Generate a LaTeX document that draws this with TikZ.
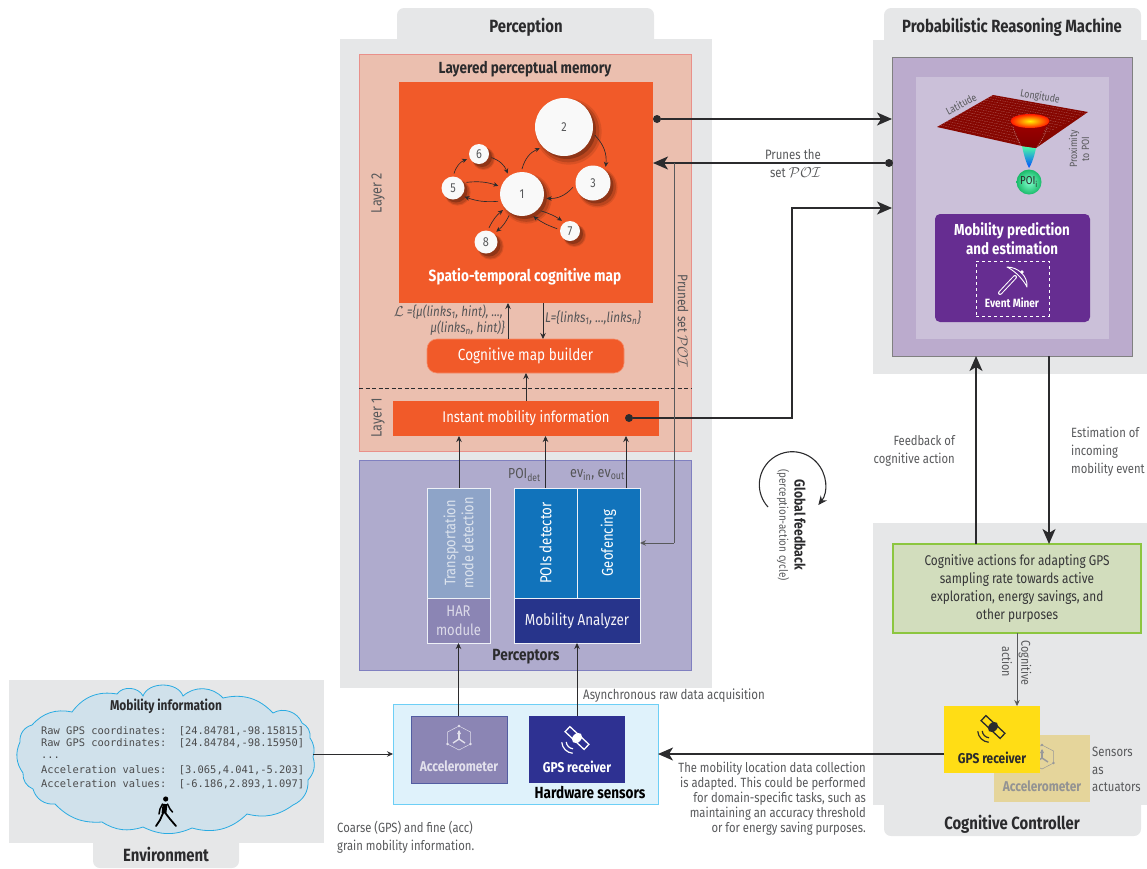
\documentclass[tikz,border=0pt]{standalone}
\usepackage{fontspec}
\setmainfont{Fira Sans}[FakeStretch=0.84]
\newfontfamily\mn{DejaVu Sans Mono}
\usetikzlibrary{arrows.meta,calc,shadows,shapes.geometric}
\definecolor{pgray}{HTML}{E6E7E8}
\definecolor{memfill}{HTML}{EBBFAF}
\definecolor{memline}{HTML}{E9908A}
\definecolor{orng}{HTML}{F15A29}
\definecolor{perfill}{HTML}{AFABCD}
\definecolor{perline}{HTML}{8080C0}
\definecolor{lblue}{HTML}{8EA4C8}
\definecolor{lpurp}{HTML}{8B85B4}
\definecolor{mblue}{HTML}{1173BB}
\definecolor{nblue}{HTML}{27348B}
\definecolor{gblue}{HTML}{2E3192}
\definecolor{prmo}{HTML}{BBABCD}
\definecolor{prmi}{HTML}{CBC0D9}
\definecolor{pur}{HTML}{662D91}
\definecolor{grf}{HTML}{D2DDBD}
\definecolor{grl}{HTML}{8CC63F}
\definecolor{yel}{HTML}{FFDD15}
\definecolor{tan2}{HTML}{E5D59B}
\definecolor{hwf}{HTML}{DFF2FB}
\definecolor{hwl}{HTML}{6DCFF6}
\definecolor{cloudf}{HTML}{D0E1EB}
\definecolor{cloudl}{HTML}{29ABE2}
\definecolor{txtg}{HTML}{58595B}
\definecolor{ttl}{HTML}{2B2B2D}
\newcommand\tf{\fontsize{13.4}{15}\selectfont}
\newcommand\bigf{\fontsize{17.7}{20}\selectfont}
\newcommand\sz[1]{\fontsize{#1}{#1}\selectfont}
\newcommand\satico[4]{\begin{scope}[shift={(#1,#2)}]
 \begin{scope}[shift={(-3.3,3.3)}]
 \draw[#3,line width=1.2pt] (95:7.5) arc[start angle=95,end angle=175,radius=7.5];
 \draw[#3,line width=1.2pt] (95:12) arc[start angle=95,end angle=175,radius=12];
 \end{scope}
 \begin{scope}[rotate=-43]
 \draw[#3,fill=#4,line width=1.3pt] (-13,-3.5) rectangle (13,3.5);
 \fill[#3] (0,0) ellipse [x radius=4.3,y radius=5.8];
 \end{scope}
\end{scope}}
\newcommand\accico[3]{\begin{scope}[shift={(#1,#2)},#3,line width=.5pt]
 \draw (0,-12)--(11.5,-6)--(11.5,6)--(0,12)--(-11.5,6)--(-11.5,-6)--cycle;
 \draw[line width=1.2pt] (0,1)--(0,-7);
 \draw[line width=1.4pt] (0,1)--(-6,5);
 \draw[line width=1.4pt] (0,1)--(6,5);
 \fill (0,-8) -- (-2,-4) -- (2,-4) -- cycle;
 \fill (0,-12) circle (1.3) (-11.5,6) circle (1.3) (11.5,6) circle (1.3);
\end{scope}}
\tikzset{
 boxat/.style={anchor=north west,inner sep=0pt,outer sep=0pt},
 thinarr/.style={draw=ttl,line width=.7pt,-{Stealth[length=6pt,width=5.5pt]}},
 bigarr/.style={draw=ttl,line width=1.4pt,-{Stealth[length=15pt,width=13pt,inset=4pt]}},
 dotnode/.style={circle,fill=ttl,inner sep=0pt,minimum size=8pt,outer sep=0pt},
 cir/.style={circle,fill=white!95!gray,inner sep=0pt,outer sep=3pt,text=txtg,font=\sz{13},
   drop shadow={shadow xshift=4pt,shadow yshift=-4pt,opacity=.12,fill=black!80!orng,shadow scale=1.14},
   drop shadow={shadow xshift=4pt,shadow yshift=-4pt,opacity=.18,fill=black!80!orng,shadow scale=1.07},
   drop shadow={shadow xshift=3pt,shadow yshift=-3pt,opacity=.3,fill=black!80!orng}},
 cur/.style={draw=ttl,line width=.65pt,-{Stealth[length=5pt,width=4.5pt]},bend left=25},
 lab/.style={text=txtg,font=\tf,inner sep=0pt,align=left},
 labr/.style={text=txtg,font=\tf,inner sep=0pt,align=right},
 labc/.style={text=txtg,font=\tf,inner sep=0pt,align=center},
 ttlb/.style={text=ttl,font=\bigf\bfseries,inner sep=0pt},
 tabpath/.style={fill=pgray,rounded corners=7pt},
}
\begin{document}
\begin{tikzpicture}[x=1pt,y=-1pt,line join=miter]
\useasboundingbox (0,0) rectangle (1147,868);
% ---- gray panels
\fill[pgray] (340,39) rectangle (712,688);
\path[tabpath] (397,39) -- (397,8) -- (654,8) -- (654,39);
\fill[pgray] (397,25) rectangle (654,39);
\node[ttlb] (tper) at (526,27.5) {Perception};
\fill[pgray] (873,40) rectangle (1147,374);
\path[tabpath] (884,40) -- (884,8) -- (1141,8) -- (1141,40);
\fill[pgray] (884,25) rectangle (1141,40);
\node[ttlb] (tprm) at (1012,27.5) {Probabilistic Reasoning Machine};
\fill[pgray] (873,523) rectangle (1147,805);
\path[tabpath] (884,805) -- (884,836) -- (1141,836) -- (1141,805);
\fill[pgray] (884,805) rectangle (1141,820);
\node[ttlb] (tcc) at (1012,824) {Cognitive Controller};
\fill[pgray] (9,680) rectangle (324,843);
\path[tabpath] (93,843) -- (93,868) -- (239,868) -- (239,843);
\fill[pgray] (93,843) rectangle (239,858);
\node[ttlb] (tenv) at (166,854) {Environment};
% ---- Perception
\node[boxat,fill=memfill,draw=memline,line width=.7pt,minimum width=332.5pt,minimum height=397pt] (mem) at (359,54) {};
\node[ttlb,font=\sz{16.1}\bfseries] (tmem) at (525,69) {Layered perceptual memory};
\node[boxat,fill=orng,minimum width=254pt,minimum height=221pt] (map) at (399,82) {};
\node[text=white,font=\sz{16.2}\bfseries,inner sep=0pt] (tmap) at (525,277) {Spatio-temporal cognitive map};
\node[text=txtg,font=\sz{15},rotate=90,inner sep=0pt] (l2) at (378,193) {Layer 2};
\node[text=txtg,font=\sz{15},rotate=90,inner sep=0pt] (l1) at (378,418) {Layer 1};
\node[cir,minimum size=58pt] (c2) at (564,127) {2};
\node[cir,minimum size=35pt] (c3) at (593,183) {3};
\node[cir,minimum size=44pt] (c1) at (522,194) {1};
\node[cir,minimum size=23pt] (c5) at (453,188) {5};
\node[cir,minimum size=20pt] (c6) at (479,154) {6};
\node[cir,minimum size=23pt] (c8) at (486,242) {8};
\node[cir,minimum size=20pt] (c7) at (570,231) {7};
\draw[cur] (c1.90) to (c2.221);
\draw[cur] (c2.-15) to (c3.52);
\draw[cur] (c3.192) to (c1.-10);
\draw[cur,bend left=12] (c5.23) to (c1.161);
\draw[cur,bend left=12] (c1.197) to (c5.-37);
\draw[cur] (c5.86) to (c6.203);
\draw[cur] (c6.-16) to (c1.125);
\draw[cur,bend left=12] (c8.78) to (c1.220);
\draw[cur,bend left=12] (c1.239) to (c8.45);
\draw[cur,bend left=8] (c1.-42) to (c7.128);
\draw[cur,bend left=8] (c7.170) to (c1.-63);
\node[boxat,fill=orng,draw=orng!70!white,line width=.6pt,rounded corners=10pt,minimum width=197pt,minimum height=34pt,text=white,font=\sz{16.1}] (cmb) at (427,339) {\raisebox{-1.5pt}{Cognitive map builder}};
\draw[ttl,line width=.7pt,dash pattern=on 4pt off 2.5pt] (359,388) coordinate (dl) -- (692,388) coordinate (dr);
\node[boxat,fill=orng,minimum width=266pt,minimum height=35pt,text=white,font=\sz{15.5}] (inst) at (393,401) {\raisebox{-1.5pt}{Instant mobility information}};
\node[boxat,fill=perfill,draw=perline,line width=.7pt,minimum width=332.5pt,minimum height=210pt] (pers) at (359,460) {};
\node[ttlb,font=\sz{16.2}\bfseries] (tpers) at (526,657) {Perceptors};
\node[boxat,fill=lblue,draw=white!85!lblue,line width=.8pt,minimum width=63pt,minimum height=110pt] (tmd) at (427,488) {};
\node[rotate=90,text=white!70!lblue,font=\fontsize{15.2}{18}\selectfont,align=center,inner sep=0pt] (tmdt) at (tmd) {Transportation\\mode detection};
\node[boxat,fill=lpurp,draw=white!85!lblue,line width=.8pt,minimum width=63pt,minimum height=45pt,text=white!70!lpurp,font=\fontsize{15.5}{19}\selectfont,align=center] (har) at (427,598) {HAR\\module};
\node[boxat,fill=mblue,draw=white!85!lblue,line width=.8pt,minimum width=63pt,minimum height=110pt] (poi) at (514,488) {};
\node[boxat,fill=mblue,draw=white!85!lblue,line width=.8pt,minimum width=63pt,minimum height=110pt] (geo) at (577,488) {};
\node[rotate=90,text=white,font=\sz{15.9},inner sep=0pt] (poit) at (poi) {POIs detector};
\node[rotate=90,text=white,font=\sz{15.6},inner sep=0pt] (geot) at (geo) {Geofencing};
\node[boxat,fill=nblue,draw=white!85!lblue,line width=.8pt,minimum width=126pt,minimum height=45pt,text=white!90!lpurp,font=\sz{16}] (ana) at (514,598) {Mobility Analyzer};
\node[anchor=west,text=ttl!80!white,font=\sz{14.5},inner sep=0pt] (poidet) at (508,475) {POI\textsubscript{det}};
\node[anchor=west,text=ttl!80!white,font=\sz{15},inner sep=0pt] (evs) at (570,475) {ev\textsubscript{in}, ev\textsubscript{out}};
\coordinate (x459) at (459,0);\coordinate (x626) at (626,0);\coordinate (x508) at (508,0);\coordinate (x543) at (543,0);\coordinate (x526) at (526,0);
\draw[thinarr] (tmd.north -| x459) -- (inst.south -| x459);
\draw[thinarr] (poi.north) -- (inst.south -| poi.north);
\draw[thinarr] (geo.north -| x626) -- (inst.south -| x626);
\draw[thinarr] (inst.north -| x526) -- (cmb.south -| x526);
\draw[thinarr] (cmb.north -| x508) -- (map.south -| x508);
\draw[thinarr] (map.south -| x543) -- (cmb.north -| x543);
\node[anchor=east,text=ttl!80!white,font=\sz{13.8}\itshape,inner sep=0pt] (lm1) at (503,312) {$\mathcal{L}$ =\{µ(links\textsubscript{1}, hint), ...,};
\node[anchor=east,text=ttl!80!white,font=\sz{13.8}\itshape,inner sep=0pt] (lm2) at (505,328) {µ(links\textsubscript{n}, hint)\}};
\node[anchor=west,text=ttl!80!white,font=\sz{14}\itshape,inner sep=0pt] (lm3) at (545,318) {L=\{links\textsubscript{1}, ...,links\textsubscript{n}\}};
% ---- PRM
\node[boxat,fill=prmo,draw=gray,line width=.6pt,minimum width=240pt,minimum height=299pt] (prm) at (892,57) {};
\node[boxat,fill=prmi,minimum width=193pt,minimum height=262pt] (prmin) at (916,77) {};
\node[boxat,fill=pur,rounded corners=5pt,minimum width=155pt,minimum height=108pt] (mpe) at (935,214) {};
\node[text=white,font=\fontsize{15.9}{19.5}\selectfont\bfseries,align=center,inner sep=0pt] (mpet) at (1012,238.5) {Mobility prediction\\and estimation};
\node[boxat,draw=white,dashed,line width=.7pt,minimum width=73pt,minimum height=55pt] (emb) at (976,261) {};
\node[text=white,font=\sz{12}\bfseries,inner sep=0pt] (emt) at (1012,303) {Event Miner};
\draw[white,line width=4pt,line cap=round] (1000,293) -- (1015,277);
\draw[pur,line width=2pt,line cap=round] (1000,293) -- (1015,277);
\draw[white,fill=pur,line width=.9pt,line join=round] (1007,267) .. controls (1018,267) and (1028,276) .. (1027,287) .. controls (1023,279) and (1015,271) .. (1007,267) -- cycle;
\fill[white] (1022,272) circle (1.8);
% surface
\coordinate (sa) at (937,127);\coordinate (sb) at (993,95);\coordinate (sc) at (1088,112);\coordinate (sd) at (1036,148);\coordinate (se) at (1022,146);
\shade[top color=green!50!cyan!70!white,bottom color=blue!70!cyan] (se) -- (sd) .. controls (1034,158) and (1031,165) .. (1029,168) .. controls (1027,165) and (1024,156) .. (se) -- cycle;
\fill[red!50!black!95!orange] (sa) -- (sb) -- (sc) -- (sd) -- (se) -- cycle;
\foreach \t in {.06,.12,...,.98}{
 \draw[white,opacity=.35,line width=.35pt,dash pattern=on 1.5pt off 1pt] ($(sa)!\t!(sb)$) -- ($(se)!\t!(sc)$);}
\shade[top color=red!62!black,bottom color=red!50!black] (1011,122) .. controls (1016,132) and (1018,136) .. (se) -- (sd) .. controls (1040,136) and (1043,132) .. (1049,122) -- cycle;
\shade[inner color=yellow!90!orange,outer color=red!80!orange] (1030,121) ellipse [x radius=19.5,y radius=7];
\draw[white,opacity=.5,line width=.5pt,dash pattern=on 1pt off 1pt] (1013,127) .. controls (1015,135) and (1018,140) .. (1021,146);
\draw[white,opacity=.5,line width=.5pt,dash pattern=on 1pt off 1pt] (1047,127) .. controls (1045,135) and (1041,142) .. (1037,147);
\node[circle,inner color=green!40!cyan!50!white,outer color=green!50!cyan!70!black!90!white,minimum size=25pt,inner sep=0pt,text=ttl,font=\sz{11.5}] (ball) at (1029,182) {POI\textsubscript{i}};
\node[text=txtg,font=\sz{10.5},rotate=28,inner sep=0pt] (lat) at (961,104) {Latitude};
\node[text=txtg,font=\sz{10.5},rotate=-10,inner sep=0pt] (lon) at (1040,97) {Longitude};
\node[text=txtg,font=\fontsize{10.5}{12}\selectfont,rotate=90,align=center,inner sep=0pt] (prox) at (1079,149) {Proximity\\to POI};
% ---- Controller
\node[boxat,fill=grf,draw=grl,line width=1.5pt,minimum width=248pt,minimum height=89pt,text=txtg!60!black,font=\fontsize{14.1}{18}\selectfont,align=center] (act) at (893,544) {Cognitive actions for adapting GPS\\sampling rate towards active\\exploration, energy savings, and\\other purposes};
\node[boxat,fill=tan2,minimum width=96pt,minimum height=67pt] (acc2) at (994,735) {};
\accico{1042}{757}{draw=gray!80,fill=gray!80}
\node[text=gray!85,font=\sz{14.2}\bfseries,inner sep=0pt] (acc2t) at (1042,786) {Accelerometer};
\node[boxat,fill=yel,minimum width=96pt,minimum height=67pt] (gps2) at (944,706) {};
\satico{993}{727}{ttl}{yel}
\node[text=ttl,font=\sz{14.2}\bfseries,inner sep=0pt] (gps2t) at (992,758) {GPS receiver};
\node[lab,anchor=north west,font=\fontsize{13.5}{17.5}\selectfont] (sens) at (1092,747) {Sensors\\as\\actuators};
\coordinate (x1017) at (1017,0);
\draw[thinarr,draw=txtg] (act.south -| x1017) -- (gps2.north -| x1017);
\node[lab,rotate=-90,font=\sz{12.8}] (ca1) at (1025,663) {Cognitive};
\node[lab,rotate=-90,font=\sz{12.8}] (ca2) at (1007,662) {action};
% ---- hardware
\node[boxat,fill=hwf,draw=hwl,line width=.8pt,minimum width=265pt,minimum height=100pt] (hw) at (393,704) {};
\node[boxat,fill=lpurp,draw=nblue!80,line width=.5pt,minimum width=96pt,minimum height=67pt] (acc) at (411,716) {};
\accico{459}{738}{draw=white!75!lpurp,fill=white!75!lpurp}
\node[text=white!75!lpurp,font=\sz{14.2}\bfseries,inner sep=0pt] (acct) at (459,766) {Accelerometer};
\node[boxat,fill=gblue,minimum width=96pt,minimum height=67pt] (gps) at (529,716) {};
\satico{577}{738}{white}{gblue}
\node[text=white,font=\sz{14.2}\bfseries,inner sep=0pt] (gpst) at (577,767) {GPS receiver};
\node[text=black,font=\sz{16.1}\bfseries,inner sep=0pt] (hwt) at (590,793) {Hardware sensors};
\draw[thinarr] (acc.north -| har.south) -- (har.south);
\draw[thinarr] (gps.north) -- (ana.south);
% ---- Environment
\draw[fill=cloudf,draw=cloudl,line width=.8pt] (72,712) to[bend left=32] (117,694) to[bend left=60] (143,696) to[bend left=70] (183,696) to[bend left=45] (223,698) to[bend left=30] (273,713) to[bend left=50] (302,723) to[bend left=35] (310,738) to[bend left=25] (313,757) to[bend left=30] (308,780) to[bend left=35] (293,805) to[bend left=25] (247,814) to[bend left=30] (192,828) to[bend left=25] (143,827) to[bend left=25] (102,822) to[bend left=25] (55,804) to[bend left=40] (33,789) to[bend left=35] (23,773) to[bend left=30] (20,742) to[bend left=40] (32,725) to[bend left=30] (72,712) -- cycle;
\node[ttlb,font=\sz{14.2}\bfseries] (tmob) at (166,706) {Mobility information};
\node[anchor=west,text=ttl!85!white,font=\mn\sz{10.4},inner sep=0pt] (m1) at (41,731) {Raw GPS coordinates:\ \ [24.84781,-98.15815]};
\node[anchor=west,text=ttl!85!white,font=\mn\sz{10.4},inner sep=0pt] (m2) at (41,743.5) {Raw GPS coordinates:\ \ [24.84784,-98.15950]};
\node[anchor=west,text=ttl!85!white,font=\mn\sz{10.4},inner sep=0pt] (m3) at (41,758) {...};
\node[anchor=west,text=ttl!85!white,font=\mn\sz{10.4},inner sep=0pt] (m4) at (41,770.5) {Acceleration values:\ \ [3.065,4.041,-5.203]};
\node[anchor=west,text=ttl!85!white,font=\mn\sz{10.4},inner sep=0pt] (m5) at (41,784) {Acceleration values:\ \ [-6.186,2.893,1.097]};
% walker
\fill[black] (165.7,799) circle (2.6);
\draw[black,line width=4.8pt] (165,804) -- (164,813);
\draw[black,line width=1.8pt,line cap=round,line join=round] (163.5,812) -- (160,820) -- (156,826);
\draw[black,line width=1.8pt,line cap=round,line join=round] (164.5,812) -- (170,819) -- (176,826);
\draw[black,line width=1.5pt,line cap=round,line join=round] (162.5,804) -- (160,809) -- (159,814);
\draw[black,line width=1.5pt,line cap=round,line join=round] (167.5,804) -- (170,809) -- (172.5,812);
\coordinate (cloudpt) at (313,754);
\draw[thinarr] (cloudpt) -- (hw.west |- cloudpt);
% ---- big connectors
\node[dotnode] (d1) at (657,119) {};
\node[dotnode] (d2) at (889,163) {};
\node[dotnode] (d3) at (629,418) {};
\draw[bigarr] (d1) -- (prm.west |- d1);
\draw[bigarr] (d2) -- (map.east |- d2);
\coordinate (pj) at (674,163);
\coordinate (vx) at (792,208);
\draw[bigarr] (d3) -| (vx) -- (prm.west |- vx);
\draw[txtg,line width=.8pt] (pj) -- (pj |- geo.east);
\draw[thinarr,draw=txtg,line width=.9pt] (pj |- geo.east) -- (geo.east);
\node[lab,rotate=-90,text=ttl!80!white,font=\sz{14}] (ps) at (683,321) {Pruned set $\mathcal{POI}$};
\node[labr,anchor=north east,font=\fontsize{13.6}{18}\selectfont] (pr) at (821,149) {Prunes the\\set $\mathcal{POI}$};
\coordinate (x976) at (976,0);\coordinate (x1049) at (1049,0);
\draw[bigarr] (act.north -| x976) -- (prm.south -| x976);
\draw[bigarr] (prm.south -| x1049) -- (act.north -| x1049);
\coordinate (y754) at (0,754);
\draw[bigarr] (gps2.west |- y754) -- (hw.east |- y754);
\node[labr,anchor=north east,font=\fontsize{13.4}{18}\selectfont] (fb) at (955,435.5) {Feedback of\\cognitive action};
\node[lab,anchor=north west,font=\fontsize{13.4}{18}\selectfont] (est) at (1071,427) {Estimation of\\incoming\\mobility event};
\node[lab,anchor=west,font=\sz{13.7}] (asy) at (583,696) {Asynchronous raw data acquisition};
\node[labr,anchor=north east] (adapt) at (866,762) {The mobility location data collection\\is adapted. This could be performed\\for domain-specific tasks, such as\\maintaining an accuracy threshold\\or for energy saving purposes.};
\node[lab,anchor=north west,font=\fontsize{13.4}{18}\selectfont] (coarse) at (337,821) {Coarse (GPS) and fine (acc)\\grain mobility information.};
% ---- global feedback
\coordinate (gfs) at (768,507);
\draw[draw=ttl,line width=1.1pt,-{Stealth[length=9pt,width=8pt]}] (gfs) arc[start angle=137.5,end angle=398,radius=33];
\node[text=ttl,font=\sz{14.5}\bfseries,rotate=-90,inner sep=0pt] (gf1) at (800,525) {Global feedback};
\node[text=txtg,font=\sz{11.7},rotate=-90,inner sep=0pt] (gf2) at (783,525) {(perception-action cycle)};
\end{tikzpicture}
\end{document}
